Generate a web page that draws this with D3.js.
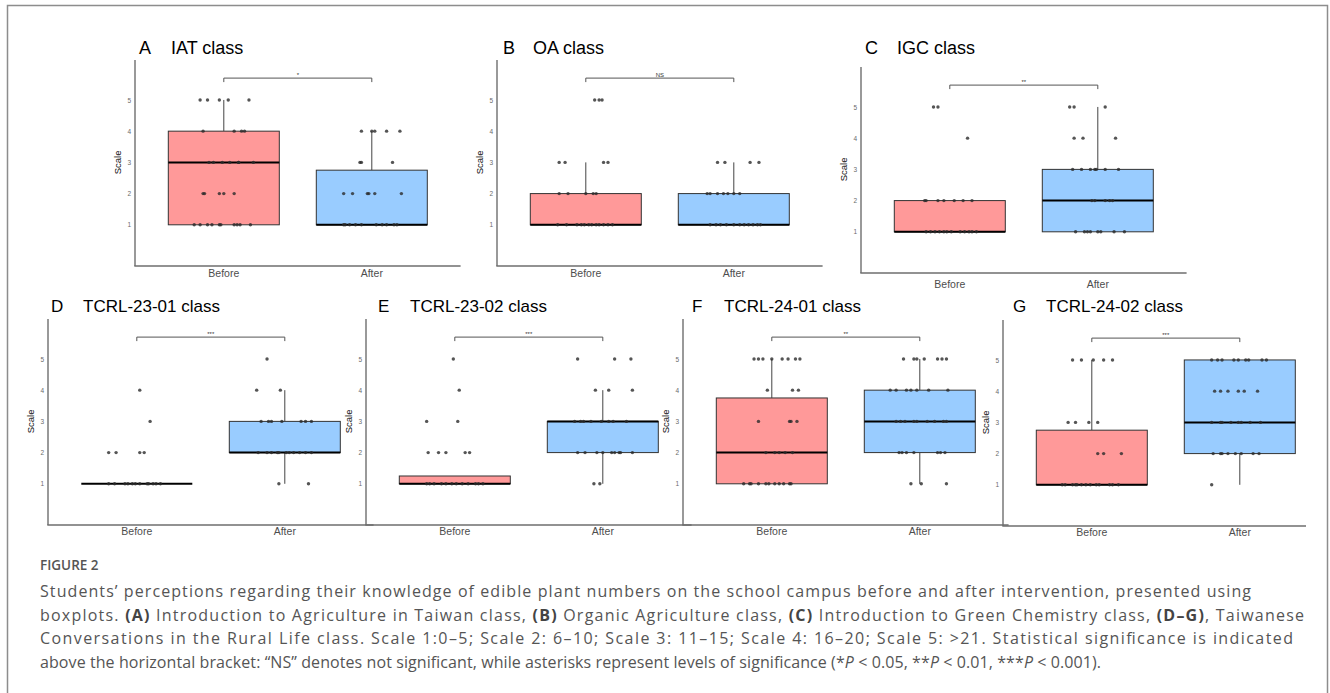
<!DOCTYPE html>
<html>
<head>
<meta charset="utf-8">
<script src="https://cdn.jsdelivr.net/npm/d3@7"></script>
<style>
  body { margin: 0; background: #fff; }
  svg { display: block; }
</style>
</head>
<body>
<svg id="fig" width="1330" height="693"></svg>
<script>
// ---- data ----
const categories = ["Before", "After"];
const panelKeys = ["A", "B", "C", "D", "E", "F", "G"];
const panelTitles = ["IAT class", "OA class", "IGC class", "TCRL-23-01 class",
  "TCRL-23-02 class", "TCRL-24-01 class", "TCRL-24-02 class"];
const significance = ["*", "NS", "**", "***", "***", "**", "***"];
const yTicks = [1, 2, 3, 4, 5];

// box stats: [lower whisker, Q1, median, Q3, upper whisker]
const boxBefore = [[1, 1, 3, 4, 5], [1, 1, 1, 2, 3], [1, 1, 1, 2, 2], [1, 1, 1, 1, 1],
  [1, 1, 1, 1.25, 1.25], [1, 1, 2, 3.75, 5], [1, 1, 1, 2.75, 5]];
const boxAfter = [[1, 1, 1, 2.75, 4], [1, 1, 1, 2, 3], [1, 1, 2, 3, 5], [1, 2, 2, 3, 4],
  [1, 2, 3, 3, 4], [1, 2, 3, 4, 5], [1, 2, 3, 5, 5]];

// jittered points: scale level -> horizontal jitter (hundredths of a category step)
const iatBefore = {5: [-16, -11, -3, 3, 17], 4: [-14, 7, 12, 14], 3: [-10, -7, -1, 4, 10, 10, 20],
  2: [-14, -13, -3, 0, 7], 1: [-20, -16, -11, -8, -3, -2, 7, 9, 11, 18]};
const iatAfter = {4: [-7, 0, 2, 10, 19], 3: [-8, -7, 14], 2: [-19, -13, -3, -2, 2, 20],
  1: [-19, -18, -15, -11, -7, 3, 7, 10, 15, 17]};
const oaBefore = {5: [6, 9, 11], 3: [-18, -14, 12, 15], 2: [-18, -12, 0, 5, 7],
  1: [-19, -13, -6, -3, -1, 2, 4, 7, 9, 12, 15, 18]};
const oaAfter = {3: [-11, -6, 11, 17], 2: [-18, -16, -11, -7, -4, 0, 4],
  1: [-16, -12, -9, -5, 0, 4, 7, 10, 13, 16, 18]};
const igcBefore = {5: [-11, -8], 4: [12], 2: [-17, -16, -8, -4, 3, 9, 15],
  1: [-16, -13, -10, -7, -4, -2, 1, 7, 10, 13, 15, 18]};
const igcAfter = {5: [-19, -16, 5], 4: [-16, -10, 12], 3: [-17, -11, -5, -2, -1, 5, 14],
  2: [-4, -2, 5, 8, 10], 1: [-15, -9, -7, -5, 0, 2, 11, 18]};
const t2301Before = {4: [2], 3: [9], 2: [-19, -14, 2, 5],
  1: [-19, -15, -8, -6, -3, -1, 2, 7, 8, 11, 13, 16]};
const t2301After = {5: [-12], 4: [-19, -3], 3: [-16, -11, -9, -2, 11, 14, 18],
  2: [-18, -12, -9, -5, -4, 1, 3, 6, 10, 14, 18], 1: [-4, 16]};
const t2302Before = {5: [-1], 4: [3], 3: [-19, 2], 2: [-18, -11, -6, 7, 10],
  1: [-19, -17, -14, -9, -6, -2, 1, 5, 9, 14, 16, 19]};
const t2302After = {5: [-17, 8, 19], 4: [-5, 4, 20], 3: [-19, -15, -13, -8, -1, 4, 7, 16],
  2: [-17, -12, -4, 0, 6, 8, 11, 12, 20], 1: [-6, -2]};
const t2401Before = {5: [-12, -9, -6, 0, 7, 11, 16, 19], 4: [-3, 14, 18], 3: [-9, 12, 13, 17],
  2: [-4, 2, 5, 9, 14], 1: [-19, -15, -14, -9, -4, -2, 2, 5, 8, 12, 13]};
const t2401After = {5: [-11, -4, -2, 3, 12, 15, 18], 4: [-20, -16, -9, -6, -2, 6, 19],
  3: [-16, -13, -10, -4, -2, 5, 10, 16, 18], 2: [-14, -12, -9, -4, 12, 14, 17], 1: [-6, 1, 18]};
const t2402Before = {5: [-13, -7, 1, 8, 14], 3: [-16, -11, -2, 4], 2: [4, 8, 20],
  1: [-20, -18, -13, -11, -10, -7, -4, -1, 3, 5, 12, 14, 18]};
const t2402After = {5: [-19, -15, -12, -4, -1, 4, 6, 15, 18], 4: [-17, -13, -8, -1, 3, 12],
  3: [-19, -13, -12, -6, -1, 1, 7, 14], 2: [-18, -13, -12, -8, -3, 1, 9, 13], 1: [-19]};

const pointsBefore = [iatBefore, oaBefore, igcBefore, t2301Before, t2302Before, t2401Before, t2402Before];
const pointsAfter = [iatAfter, oaAfter, igcAfter, t2301After, t2302After, t2401After, t2402After];

// ---- layout ----
const layout = [
  {x: 135, top: 60, bottom: 266, lx: 4, tx: 36, ty: 53.5, fs: 18, labOff: 11},
  {x: 497, top: 60, bottom: 266, lx: 6, tx: 36, ty: 53.5, fs: 18, labOff: 11},
  {x: 861, top: 67, bottom: 273, lx: 4, tx: 36, ty: 53.5, fs: 18, labOff: 15},
  {x: 48, top: 319, bottom: 525, lx: 3, tx: 35, ty: 312, fs: 17, labOff: 10},
  {x: 366, top: 319, bottom: 525, lx: 12, tx: 44, ty: 312, fs: 17, labOff: 10},
  {x: 683, top: 319, bottom: 525, lx: 9, tx: 41, ty: 312, fs: 17, labOff: 10},
  {x: 1003, top: 320, bottom: 526, lx: 10, tx: 43, ty: 312, fs: 17, labOff: 10, right: 1306}
];
const panelW = 325.6;
const boxW = 0.75;
const colors = {Before: "#FF9999", After: "#99CCFF"};
const font = "'Liberation Sans', Arial, sans-serif";

const svg = d3.select("#fig");

// frame around the figure
svg.append("rect").attr("x", 7.5).attr("y", 5.5).attr("width", 1320).attr("height", 720)
  .attr("fill", "none").attr("stroke", "#8d8d8d").attr("stroke-width", 1.5);

panelKeys.forEach((key, i) => {
  const L = layout[i];
  const x = d3.scaleLinear().domain([0.4, 2.6]).range([L.x, L.x + panelW]);
  const y = d3.scaleLinear().domain([-0.32, 6.28]).range([L.bottom, L.top]);
  const g = svg.append("g");

  // titles
  g.append("text").attr("x", L.x + L.lx).attr("y", L.ty).text(key)
    .style("font-family", font).style("font-size", L.fs + "px").attr("fill", "#000");
  g.append("text").attr("x", L.x + L.tx).attr("y", L.ty).text(panelTitles[i])
    .style("font-family", font).style("font-size", L.fs + "px").attr("fill", "#000");

  // axes
  const right = L.right || L.x + panelW;
  g.append("line").attr("x1", L.x).attr("x2", L.x).attr("y1", L.top).attr("y2", L.bottom)
    .attr("stroke", "#6e6e6e").attr("stroke-width", 1.4);
  g.append("line").attr("x1", L.x - 0.7).attr("x2", right).attr("y1", L.bottom).attr("y2", L.bottom)
    .attr("stroke", "#6e6e6e").attr("stroke-width", 1.4);

  const yAxis = g.append("g").attr("transform", `translate(${L.x},0)`)
    .call(d3.axisLeft(y).tickValues(yTicks).tickFormat(d3.format("d")).tickSize(0).tickPadding(4));
  yAxis.select(".domain").remove();
  yAxis.selectAll("text").style("font-family", font).style("font-size", "6.5px").attr("fill", "#6a6a6a");

  g.selectAll(".cat").data(categories).enter().append("text")
    .attr("x", (d, k) => x(k + 1)).attr("y", L.bottom + L.labOff)
    .attr("text-anchor", "middle").text(d => d)
    .style("font-family", font).style("font-size", "10.5px").attr("fill", "#4d4d4d");

  g.append("text")
    .attr("transform", `translate(${L.x - 14},${y(3)}) rotate(-90)`)
    .attr("text-anchor", "middle").text("Scale")
    .style("font-family", font).style("font-size", "9.5px").attr("fill", "#111");

  // boxes
  const stats = [boxBefore[i], boxAfter[i]];
  stats.forEach((s, k) => {
    const cx = x(k + 1);
    const [lo, q1, med, q3, hi] = s;
    const cat = categories[k];
    if (hi > q3) g.append("line").attr("x1", cx).attr("x2", cx).attr("y1", y(q3)).attr("y2", y(hi))
      .attr("stroke", "#444").attr("stroke-width", 1);
    if (lo < q1) g.append("line").attr("x1", cx).attr("x2", cx).attr("y1", y(q1)).attr("y2", y(lo))
      .attr("stroke", "#444").attr("stroke-width", 1);
    g.append("rect")
      .attr("x", x(k + 1 - boxW / 2)).attr("width", x(k + 1 + boxW / 2) - x(k + 1 - boxW / 2))
      .attr("y", y(q3)).attr("height", Math.max(0, y(q1) - y(q3)))
      .attr("fill", colors[cat]).attr("stroke", "#333").attr("stroke-width", 1);
    g.append("line").attr("x1", x(k + 1 - boxW / 2)).attr("x2", x(k + 1 + boxW / 2))
      .attr("y1", y(med)).attr("y2", y(med)).attr("stroke", "#000").attr("stroke-width", 2);
  });

  // jittered points
  [pointsBefore[i], pointsAfter[i]].forEach((obj, k) => {
    const pts = Object.entries(obj).flatMap(([lvl, js]) => js.map(j => ({v: +lvl, j: j})));
    g.selectAll(null).data(pts).enter().append("circle")
      .attr("cx", d => x(k + 1 + d.j / 100)).attr("cy", d => y(d.v))
      .attr("r", 1.7).attr("fill", "#2b2b2b").attr("fill-opacity", 0.8);
  });

  // significance bracket
  const by = y(5.7);
  g.append("path")
    .attr("d", `M${x(1)},${by + 4}V${by}H${x(2)}V${by + 4}`)
    .attr("fill", "none").attr("stroke", "#555").attr("stroke-width", 1);
  g.append("text").attr("x", (x(1) + x(2)) / 2).attr("y", by - 1)
    .attr("text-anchor", "middle").text(significance[i])
    .style("font-family", font).style("font-size", "6px").attr("fill", "#333");
});

// ---- caption ----
const capFont = "'Open Sans', 'Noto Sans', sans-serif";
svg.append("text").attr("x", 40).attr("y", 570).text("FIGURE 2")
  .style("font-family", capFont).style("font-size", "13.5px").style("font-weight", 600)
  .attr("fill", "#555");

const captionLines = [
  [["Students\u2019 perceptions regarding their knowledge of edible plant numbers on the school campus before and after intervention, presented using", ""]],
  [["boxplots. ", ""], ["(A)", "b"], [" Introduction to Agriculture in Taiwan class, ", ""], ["(B)", "b"],
   [" Organic Agriculture class, ", ""], ["(C)", "b"], [" Introduction to Green Chemistry class, ", ""],
   ["(D\u2013G)", "b"], [", Taiwanese", ""]],
  [["Conversations in the Rural Life class. Scale 1:0\u20135; Scale 2: 6\u201310; Scale 3: 11\u201315; Scale 4: 16\u201320; Scale 5: >21. Statistical significance is indicated", ""]],
  [["above the horizontal bracket: \u201cNS\u201d denotes not significant, while asterisks represent levels of significance (*", ""],
   ["P", "i"], [" < 0.05, **", ""], ["P", "i"], [" < 0.01, ***", ""], ["P", "i"], [" < 0.001).", ""]]
];
const captionWidths = [1211, 1264, 1253, 1061];
const captionBaselines = [597, 620.5, 644, 667.5];

captionLines.forEach((parts, li) => {
  const t = svg.append("text").attr("x", 40).attr("y", captionBaselines[li])
    .attr("textLength", captionWidths[li]).attr("lengthAdjust", "spacing")
    .style("font-family", capFont).style("font-size", "16px").attr("fill", "#555");
  parts.forEach(([s, st]) => {
    const ts = t.append("tspan").text(s);
    if (st === "b") ts.style("font-weight", 700).attr("fill", "#444");
    if (st === "i") ts.style("font-style", "italic");
  });
});
</script>
</body>
</html>
